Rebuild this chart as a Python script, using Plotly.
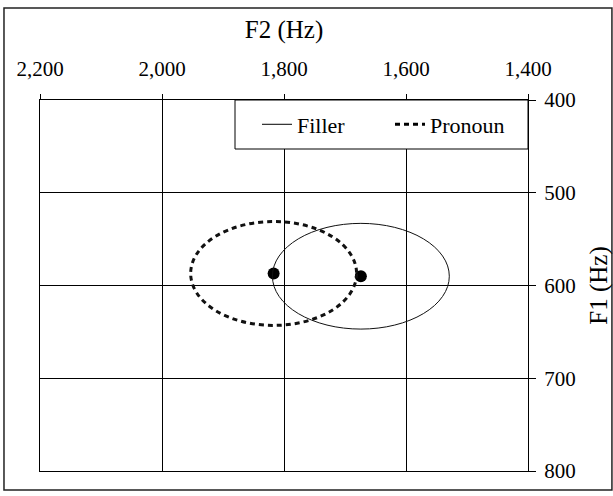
import plotly.graph_objects as go

groups = ["Filler", "Pronoun"]
f2_mean = [1674, 1817]
f1_mean = [590, 587]
f2_radius = [145, 136]
f1_radius = [57, 56]
line_dash = ["solid", "5px,4px"]
line_width = [1, 3]

x_ticks = [2200, 2000, 1800, 1600, 1400]
y_ticks = [400, 500, 600, 700, 800]

FONT = "Liberation Serif"
fig = go.Figure()

# dots at group means
fig.add_trace(go.Scatter(x=f2_mean, y=f1_mean, mode="markers",
                         marker=dict(size=12, color="black"),
                         showlegend=False, hoverinfo="x+y"))

# legend entries
for g, d, w in zip(groups, line_dash, line_width):
    fig.add_trace(go.Scatter(x=[None], y=[None], mode="lines", name=g,
                             line=dict(color="black", dash=d, width=w)))

shapes = []
for cx, cy, rx, ry, d, w in zip(f2_mean, f1_mean, f2_radius, f1_radius, line_dash, line_width):
    shapes.append(dict(type="circle", xref="x", yref="y",
                       x0=cx - rx, x1=cx + rx, y0=cy - ry, y1=cy + ry,
                       line=dict(color="#111", width=w, dash=d)))
# legend box
shapes.append(dict(type="rect", xref="paper", yref="paper",
                   x0=0.3996, x1=1.0, y0=0.8679, y1=1.0,
                   line=dict(color="black", width=1), fillcolor="white",
                   layer="above"))
# outer border
shapes.append(dict(type="rect", xref="paper", yref="paper",
                   x0=-0.0738, x1=1.172, y0=-0.0512, y1=1.248,
                   line=dict(color="#222", width=1.5), layer="below"))

fig.update_layout(
    width=613, height=496,
    margin=dict(l=40, r=85, t=100, b=25, autoexpand=False),
    paper_bgcolor="white", plot_bgcolor="white",
    font=dict(family=FONT, size=21, color="black"),
    shapes=shapes,
    showlegend=True,
    legend=dict(orientation="h", x=0.4447, xanchor="left", y=0.934, yanchor="middle",
                bgcolor="rgba(0,0,0,0)", borderwidth=0,
                font=dict(family=FONT, size=22), entrywidth=88,
                itemwidth=30),
    xaxis=dict(side="top", range=[2200, 1400], tickvals=x_ticks,
               tickformat=",d", ticks="outside", ticklen=5, tickcolor="black",
               ticklabelstandoff=10, automargin=False,
               showgrid=True, gridcolor="black", gridwidth=1,
               showline=True, linecolor="black", linewidth=1, mirror=True,
               zeroline=False,
               title=dict(text="F2 (Hz)", standoff=10)),
    yaxis=dict(side="right", range=[800, 400], tickvals=y_ticks,
               ticks="outside", ticklen=7, tickcolor="black",
               ticklabelstandoff=4, automargin=False,
               showgrid=True, gridcolor="black", gridwidth=1,
               showline=True, linecolor="black", linewidth=1, mirror=True,
               zeroline=False,
               title=dict(text="F1 (Hz)", standoff=20)),
)

fig.write_html("out.html", post_script="document.body.style.margin='0';",
               config={"displayModeBar": False})
